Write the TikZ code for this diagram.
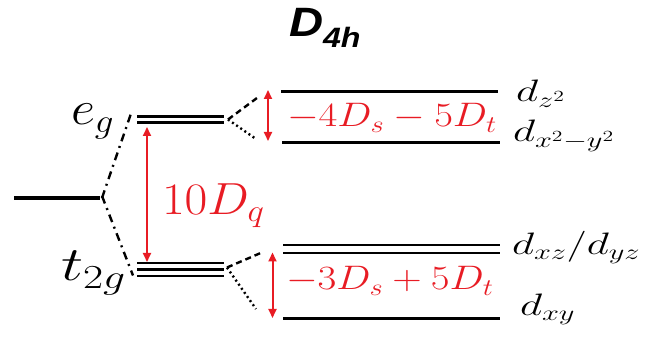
\RequirePackage{fix-cm}
\documentclass[tikz,border=0pt]{standalone}
\usepackage{fontspec}
\usepackage{graphicx}
\usetikzlibrary{arrows.meta}
\newfontfamily\titlefont{Liberation Sans}
\definecolor{refred}{RGB}{232,28,36}
\newcommand\sx[2]{\scalebox{#1}[1]{#2}}
\begin{document}
\begin{tikzpicture}[x=1pt,y=-1pt,
  lvl/.style={line width=3pt},
  dlvl/.style={line width=2.2pt},
  dashdot/.style={line width=2.4pt, dash pattern=on 8pt off 5pt on 2pt off 5pt},
  dsh/.style={line width=2.4pt, dash pattern=on 6pt off 4pt},
  dts/.style={line width=2.4pt, dash pattern=on 2pt off 3pt},
  redarr/.style={refred, line width=2pt, {Triangle[length=9pt,width=8pt]}-{Triangle[length=9pt,width=8pt]}},
  lab/.style={anchor=base west, inner sep=0pt, outer sep=0pt},
  redlab/.style={lab, text=refred}]
\useasboundingbox (0,0) rectangle (649,347);

% title
\node[lab] (title) at (289,37) {\sx{1.15}{\titlefont\fontsize{41}{41}\selectfont\bfseries\itshape D\raisebox{-11pt}{\fontsize{28}{28}\selectfont 4h}}};

% coordinates of levels
\coordinate (L0a) at (14,198);  \coordinate (L0b) at (100,198);
\coordinate (EGa) at (137,119.5); \coordinate (EGb) at (224,119.5);
\coordinate (TGa) at (137,269.5); \coordinate (TGb) at (224,269.5);
\coordinate (Z2a) at (281,92);  \coordinate (Z2b) at (498,92);
\coordinate (X2a) at (282,142.5); \coordinate (X2b) at (500,142.5);
\coordinate (XZa) at (283,249); \coordinate (XZb) at (500,249);
\coordinate (XYa) at (283,318.5); \coordinate (XYb) at (500,318.5);

% levels
\draw[line width=4pt] (L0a) -- (L0b);
\draw[dlvl] ([yshift=-3pt]EGa) -- ([yshift=-3pt]EGb);
\draw[dlvl] ([yshift=3pt]EGa) -- ([yshift=3pt]EGb);
\draw[dlvl] ([yshift=-6.5pt]TGa) -- ([yshift=-6.5pt]TGb);
\draw[dlvl] (TGa) -- (TGb);
\draw[dlvl] ([yshift=6.5pt]TGa) -- ([yshift=6.5pt]TGb);
\draw[lvl] (Z2a) -- (Z2b);
\draw[lvl] (X2a) -- (X2b);
\draw[dlvl] ([yshift=-4pt]XZa) -- ([yshift=-4pt]XZb);
\draw[dlvl] ([yshift=4pt]XZa) -- ([yshift=4pt]XZb);
\draw[lvl] (XYa) -- (XYb);

% dash-dot correlation lines
\draw[dashdot] ([xshift=2pt]L0b) -- ([xshift=-6pt,yshift=6pt]EGa);
\draw[dashdot] ([xshift=2pt,yshift=2pt]L0b) -- ([xshift=-4pt,yshift=-6pt]TGa);

% splitting lines
\coordinate (EGup) at (257,98);  \coordinate (EGdn) at (256,139);
\coordinate (TGup) at (263,252); \coordinate (TGdn) at (256,309);
\draw[dsh] ([xshift=4pt]EGb) -- (EGup);
\draw[dts] ([xshift=4pt]EGb) -- (EGdn);
\draw[dsh] ([xshift=3pt,yshift=2pt]TGb) -- (TGup);
\draw[dts] ([xshift=3pt,yshift=2pt]TGb) -- (TGdn);

% red arrows
\coordinate (A1t) at (147,127); \coordinate (A1b) at (147,262);
\coordinate (A2t) at (268,90);  \coordinate (A2b) at (268,141);
\coordinate (A3t) at (272.5,252.5); \coordinate (A3b) at (272.5,318);
\draw[redarr] (A1t) -- (A1b);
\draw[redarr] (A2t) -- (A2b);
\draw[redarr] (A3t) -- (A3b);

% labels
\node[lab] (eg) at (71,125) {\sx{1.1}{\fontsize{48}{48}\selectfont$e_g$}};
\node[lab] (t2g) at (61,281) {\sx{1.3}{\fontsize{48}{48}\selectfont$t_{2g}$}};
\node[redlab] (dq) at (162,215) {\sx{1.1}{\fontsize{45}{45}\selectfont$10D_q$}};
\node[redlab] (sp1) at (287,127) {\sx{1.2}{\fontsize{34}{34}\selectfont$-4D_s - 5D_t$}};
\node[redlab] (sp2) at (286,290) {\sx{1.2}{\fontsize{34}{34}\selectfont$-3D_s + 5D_t$}};
\node[lab] (dz2) at (516,102) {\sx{1.4}{\fontsize{31}{31}\selectfont$d_{z^2}$}};
\node[lab] (dx2y2) at (513,142) {\sx{1.4}{\fontsize{31}{31}\selectfont$d_{x^2-y^2}$}};
\node[lab] (dxz) at (512,255) {\sx{1.4}{\fontsize{31}{31}\selectfont$d_{xz}/d_{yz}$}};
\node[lab] (dxy) at (520,316) {\sx{1.4}{\fontsize{31}{31}\selectfont$d_{xy}$}};
\end{tikzpicture}
\end{document}
